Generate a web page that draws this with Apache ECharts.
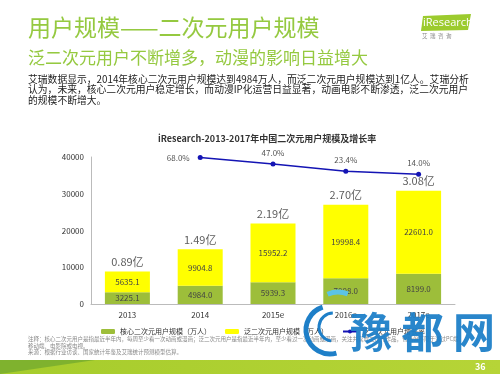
<!DOCTYPE html>
<html><head><meta charset="utf-8">
<script src="https://cdn.jsdelivr.net/npm/echarts@6/dist/echarts.min.js"></script>
<style>html,body{margin:0;padding:0;background:#fff}#c{width:500px;height:374px}</style>
</head><body><div id="c"></div>
<script>
var categories = ['2013', '2014', '2015e', '2016e', '2017e'];
var coreUsers = [3225.1, 4984.0, 5939.3, 7008.0, 8199.0];
var panUsers = [5635.1, 9904.8, 15952.2, 19998.4, 22601.0];
var totalLabels = ['0.89亿', '1.49亿', '2.19亿', '2.70亿', '3.08亿'];
var growthRate = ['-', 68.0, 47.0, 23.4, 14.0];
var yTicks = [0, 10000, 20000, 30000, 40000];
var seriesNames = ['核心二次元用户规模（万人）', '泛二次元用户规模（万人）', '泛二次元用户增长率'];

var totals = coreUsers.map(function (v, i) { return v + panUsers[i]; });
var CJK = '"Noto Sans CJK SC", "Noto Sans", sans-serif';
var chart = echarts.init(document.getElementById('c'), null, {renderer: 'canvas'});

var growthData = growthRate.map(function (v, i) {
  if (v === '-') return '-';
  return {value: v, label: {position: i === 1 ? 'left' : 'top', distance: i === 1 ? 8 : 5}};
});

chart.setOption({
  animation: false,
  textStyle: {fontFamily: CJK},
  grid: {left: 91, right: 45, top: 157, bottom: 70, containLabel: false},
  legend: {
    data: seriesNames, left: 96, top: 323, itemWidth: 14, itemHeight: 5, itemGap: 14,
    textStyle: {fontSize: 7, color: '#333', fontFamily: CJK}
  },
  xAxis: {
    type: 'category', data: categories,
    axisLine: {lineStyle: {color: '#bbb'}}, axisTick: {show: false},
    axisLabel: {fontSize: 8, color: '#333', margin: 7}
  },
  yAxis: [{
    type: 'value', min: yTicks[0], max: yTicks[yTicks.length - 1], interval: 10000,
    axisLine: {show: true, lineStyle: {color: '#bbb'}}, axisTick: {show: false},
    splitLine: {show: false},
    axisLabel: {fontSize: 8, color: '#333', margin: 7, formatter: function (v) { return String(v); }}
  }, {
    type: 'value', min: -410, max: 70, show: false
  }],
  series: [{
    name: seriesNames[0], type: 'bar', stack: 'u', data: coreUsers, barWidth: 45,
    itemStyle: {color: '#9DBE3A'},
    label: {show: true, position: 'inside', fontSize: 8, color: '#444',
      formatter: function (p) { return p.value.toFixed(1); }}
  }, {
    name: seriesNames[1], type: 'bar', stack: 'u', data: panUsers, barWidth: 45,
    itemStyle: {color: '#FFFF00'},
    label: {show: true, position: 'inside', fontSize: 8, color: '#444',
      formatter: function (p) { return p.value.toFixed(1); }}
  }, {
    name: 'total', type: 'scatter', data: totals, symbolSize: 0, silent: true,
    label: {show: true, position: 'top', distance: 4, fontSize: 11, color: '#333',
      formatter: function (p) { return totalLabels[p.dataIndex]; }}
  }, {
    name: seriesNames[2], type: 'line', yAxisIndex: 1, data: growthData,
    symbol: 'circle', symbolSize: 5,
    lineStyle: {color: '#1414B4', width: 1.5}, itemStyle: {color: '#1414B4'},
    label: {show: true, fontSize: 8, color: '#555',
      formatter: function (p) { return p.value.toFixed(1) + '%'; }}
  }],
  graphic: [
    {type: 'text', left: 28, top: 16, style: {text: '用户规模——二次元用户规模', fontSize: 23, fill: '#95C940', fontFamily: CJK}},
    {type: 'text', left: 28, top: 49, style: {text: '泛二次元用户不断增多，动漫的影响日益增大', fontSize: 17, fill: '#95C940', fontFamily: CJK}},
    {type: 'text', left: 28, top: 74, style: {
      text: '艾瑞数据显示，2014年核心二次元用户规模达到4984万人，而泛二次元用户规模达到1亿人。艾瑞分析\n认为，未来，核心二次元用户稳定增长，而动漫IP化运营日益显著，动画电影不断渗透，泛二次元用户\n的规模不断增大。',
      fontSize: 9.8, lineHeight: 10.5, fill: '#222', fontFamily: CJK}},
    {type: 'text', left: 158, top: 134, style: {text: 'iResearch-2013-2017年中国二次元用户规模及增长率', fontSize: 9, fontWeight: 'bold', fill: '#333', fontFamily: CJK}},
    {type: 'polygon', shape: {points: [[423, 16], [471, 14], [468, 30], [421, 31]]}, style: {fill: '#9CCB2E'}},
    {type: 'text', left: 423, top: 17, style: {text: 'iResearch', fontSize: 11, fill: '#fff', fontFamily: '"Open Sans", sans-serif'}},
    {type: 'text', left: 422, top: 33, style: {text: '艾  瑞  咨  询', fontSize: 5.5, fill: '#888', fontFamily: CJK}},
    {type: 'text', left: 28, top: 336, style: {
      text: '注释：核心二次元用户是指最近半年内，每周至少看一次动画或漫画；泛二次元用户是指最近半年内，至少看过一次动画或漫画，关注并喜欢二次元作品，包括但不限于通过PC端、\n移动端、电影院或电视。\n来源：根据行业访谈、国家统计年鉴及艾瑞统计预测模型估算。',
      fontSize: 5.5, lineHeight: 6.5, fill: '#888', fontFamily: CJK}},
    {type: 'rect', shape: {x: 0, y: 360, width: 500, height: 14}, style: {
      fill: new echarts.graphic.LinearGradient(0, 0, 1, 0, [{offset: 0, color: '#A6CC2C'}, {offset: 1, color: '#B6D437'}])}},
    {type: 'polygon', shape: {points: [[0, 360], [95, 360], [0, 374]]}, style: {fill: '#7FB22E'}},
    {type: 'text', left: 475, top: 362, style: {text: '36', fontSize: 9, fontWeight: 'bold', fill: '#fff', fontFamily: CJK}},
    {type: 'arc', shape: {cx: 330, cy: 330, r: 24, startAngle: 1.3, endAngle: 4.4}, style: {stroke: '#1E7FC8', lineWidth: 5, fill: null}, z: 100},
    {type: 'arc', shape: {cx: 333, cy: 327, r: 14, startAngle: 1.7, endAngle: 4.7}, style: {stroke: '#1E7FC8', lineWidth: 3, fill: null}, z: 100},
    {type: 'arc', shape: {cx: 338, cy: 318, r: 26, startAngle: 4.3, endAngle: 5.1}, style: {stroke: '#5BC3E6', lineWidth: 5, fill: null}, z: 100},
    {type: 'text', left: 350, top: 311, z: 100, style: {text: '豫 都 网', fontSize: 42, fontWeight: 'bold', fill: '#1E7FC8', fontFamily: CJK, opacity: 0.95}}
  ]
});
</script></body></html>
